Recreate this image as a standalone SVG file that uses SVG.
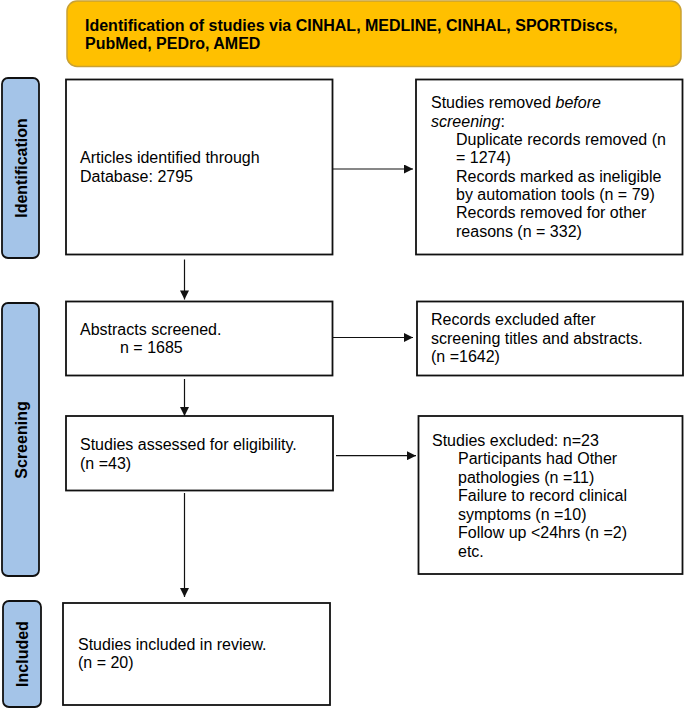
<svg xmlns="http://www.w3.org/2000/svg" width="685" height="709" viewBox="0 0 685 709">
<style>
text{font-family:"Liberation Sans",Arial,sans-serif;font-size:16px;fill:#000}
.b{font-weight:bold}
.box{fill:#fff;stroke:#111;stroke-width:1.8}
.tab{fill:#a4c4e8;stroke:#111;stroke-width:1.8}
.hdr{fill:#ffc000;stroke:#c9a133;stroke-width:1.5}
.con{stroke:#111;stroke-width:1.2;fill:none;marker-end:url(#ah)}
</style>
<defs>
<marker id="ah" viewBox="0 0 10 10" refX="10" refY="5" markerWidth="10" markerHeight="9" markerUnits="userSpaceOnUse" orient="auto">
<path d="M0,0 L10,5 L0,10 z" fill="#111"/>
</marker>
</defs>
<g id="header">
<rect class="hdr" x="67" y="1" width="614" height="65.5" rx="10"/>
<text class="b" x="85" y="31">Identification of studies via CINHAL, MEDLINE, CINHAL, SPORTDiscs,</text>
<text class="b" x="85" y="49">PubMed, PEDro, AMED</text>
</g>
<g id="tab-identification">
<rect class="tab" x="2" y="78" width="37" height="180" rx="6"/>
<text class="b" transform="translate(26.5,168) rotate(-90)" text-anchor="middle">Identification</text>
</g>
<g id="tab-screening">
<rect class="tab" x="2" y="303" width="37" height="273" rx="6"/>
<text class="b" transform="translate(26.5,440) rotate(-90)" text-anchor="middle">Screening</text>
</g>
<g id="tab-included">
<rect class="tab" x="3" y="601" width="38" height="106" rx="6"/>
<text class="b" transform="translate(28,654) rotate(-90)" text-anchor="middle">Included</text>
</g>
<g id="articles">
<rect class="box" x="66" y="79.5" width="266.5" height="175"/>
<text x="80" y="163">Articles identified through</text>
<text x="80" y="182">Database: 2795</text>
</g>
<g id="removed">
<rect class="box" x="416" y="79.5" width="266.5" height="175"/>
<text x="431" y="108">Studies removed <tspan font-style="italic">before</tspan></text>
<text x="431" y="127"><tspan font-style="italic">screening</tspan>:</text>
<text x="456" y="145">Duplicate records removed (n</text>
<text x="456" y="163">= 1274)</text>
<text x="456" y="182">Records marked as ineligible</text>
<text x="456" y="200">by automation tools (n = 79)</text>
<text x="456" y="218">Records removed for other</text>
<text x="456" y="237">reasons (n = 332)</text>
</g>
<g id="abstracts">
<rect class="box" x="66" y="301.5" width="266.5" height="74"/>
<text x="80" y="335">Abstracts screened.</text>
<text x="120" y="353">n = 1685</text>
</g>
<g id="excluded-abstracts">
<rect class="box" x="417" y="301.5" width="266" height="74"/>
<text x="431" y="325">Records excluded after</text>
<text x="431" y="343.5">screening titles and abstracts.</text>
<text x="431" y="362">(n =1642)</text>
</g>
<g id="assessed">
<rect class="box" x="66" y="416" width="267" height="74.5"/>
<text x="80" y="450">Studies assessed for eligibility.</text>
<text x="80" y="468.5">(n =43)</text>
</g>
<g id="excluded-studies">
<rect class="box" x="418.5" y="416" width="264" height="158"/>
<text x="432" y="446">Studies excluded: n=23</text>
<text x="458" y="464">Participants had Other</text>
<text x="458" y="482.5">pathologies (n =11)</text>
<text x="458" y="501">Failure to record clinical</text>
<text x="458" y="519.5">symptoms (n =10)</text>
<text x="458" y="538">Follow up &lt;24hrs (n =2)</text>
<text x="458" y="556.5">etc.</text>
</g>
<g id="included">
<rect class="box" x="63" y="603" width="267" height="102"/>
<text x="78" y="650">Studies included in review.</text>
<text x="78" y="668">(n = 20)</text>
</g>
<g id="connectors">
<path class="con" d="M333,169 H413"/>
<path class="con" d="M184.5,259.5 V299.5"/>
<path class="con" d="M333,337.5 H413"/>
<path class="con" d="M184.5,379 V416"/>
<path class="con" d="M336,455.7 H416"/>
<path class="con" d="M184.5,493 V597"/>
</g>
</svg>
